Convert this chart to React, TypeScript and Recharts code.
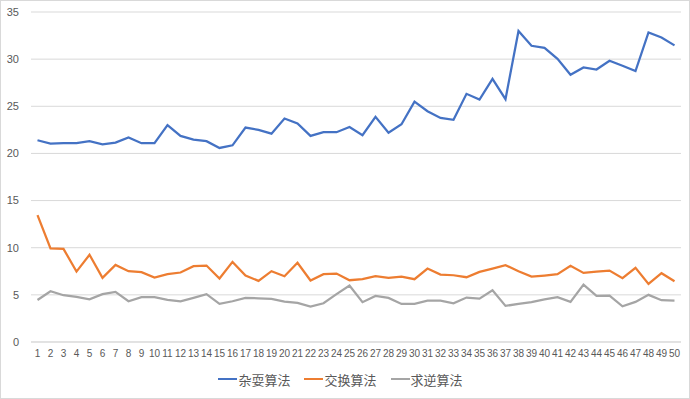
import * as React from "react";
import {
  LineChart,
  Line,
  XAxis,
  YAxis,
  CartesianGrid,
  Legend,
} from "recharts";

const categories = Array.from({ length: 50 }, (_, i) => String(i + 1));

const juggleValues = [
  21.4, 21.04, 21.1, 21.1, 21.3, 20.97, 21.15, 21.7, 21.08, 21.1,
  23.0, 21.86, 21.47, 21.3, 20.58, 20.86, 22.74, 22.5, 22.1, 23.7,
  23.17, 21.86, 22.25, 22.25, 22.8, 21.93, 23.88, 22.2, 23.1, 25.5,
  24.48, 23.77, 23.56, 26.32, 25.72, 27.91, 25.75, 32.98, 31.42, 31.2,
  30.04, 28.34, 29.12, 28.9, 29.83, 29.3, 28.73, 32.84, 32.3, 31.46,
];

const swapValues = [
  13.46, 9.92, 9.88, 7.47, 9.25, 6.8, 8.18, 7.51, 7.4, 6.84,
  7.19, 7.37, 8.04, 8.11, 6.73, 8.5, 7.05, 6.48, 7.51, 6.98,
  8.4, 6.52, 7.19, 7.26, 6.55, 6.66, 6.98, 6.8, 6.94, 6.66,
  7.79, 7.15, 7.08, 6.87, 7.44, 7.79, 8.15, 7.51, 6.94, 7.05,
  7.19, 8.08, 7.33, 7.47, 7.58, 6.77, 7.86, 6.16, 7.3, 6.45,
];

const reverseValues = [
  4.46, 5.38, 4.96, 4.78, 4.53, 5.07, 5.31, 4.32, 4.75, 4.75,
  4.46, 4.32, 4.68, 5.07, 4.04, 4.32, 4.68, 4.64, 4.57, 4.29,
  4.14, 3.75, 4.11, 5.07, 5.99, 4.22, 4.89, 4.68, 4.04, 4.04,
  4.39, 4.39, 4.11, 4.71, 4.6, 5.49, 3.83, 4.04, 4.22, 4.53,
  4.75, 4.25, 6.09, 4.89, 4.92, 3.79, 4.25, 5.0, 4.43, 4.39,
];

const yTicks = [0, 5, 10, 15, 20, 25, 30, 35];

const series = [
  { key: "juggle", name: "杂耍算法", color: "#4472C4" },
  { key: "swap", name: "交换算法", color: "#ED7D31" },
  { key: "reverse", name: "求逆算法", color: "#A5A5A5" },
];

const data = categories.map((name, i) => ({
  name,
  juggle: juggleValues[i],
  swap: swapValues[i],
  reverse: reverseValues[i],
}));

// legend drawn like Excel's: short line then label
const LegendContent = () => (
  <div
    style={{
      height: 30,
      display: "flex",
      justifyContent: "center",
      alignItems: "center",
      fontFamily: "'Noto Sans CJK SC', sans-serif",
      fontSize: 13,
      color: "#595959",
      paddingTop: 4,
      boxSizing: "border-box",
    }}
  >
    {series.map((s) => (
      <div key={s.key} style={{ display: "flex", alignItems: "center", margin: "0 7px" }}>
        <div style={{ width: 19, height: 2.5, background: s.color, marginRight: 1 }} />
        <span>{s.name}</span>
      </div>
    ))}
  </div>
);

export default function App() {
  return (
    <div
      style={{
        position: "absolute",
        left: 0,
        top: 0,
        width: 690,
        height: 399,
        background: "#fff",
        border: "1px solid #d9d9d9",
        boxSizing: "border-box",
      }}
    >
      <div style={{ position: "absolute", left: -1, top: -1 }}>
        <LineChart
          width={690}
          height={399}
          data={data}
          margin={{ top: 12, right: 9, left: 0, bottom: 7 }}
        >
          <CartesianGrid vertical={false} stroke="#d9d9d9" strokeWidth={1} />
          <XAxis
            dataKey="name"
            interval={0}
            height={20}
            padding={{ left: 6.5, right: 6.5 }}
            axisLine={{ stroke: "#d9d9d9" }}
            tickLine={false}
            tick={{ fontSize: 10, fill: "#595959", fontFamily: "'Liberation Sans', sans-serif" }}
          />
          <YAxis
            width={31}
            domain={[0, 35]}
            ticks={yTicks}
            axisLine={false}
            tickLine={false}
            tick={{ fontSize: 11, fill: "#595959", fontFamily: "'Liberation Sans', sans-serif", dx: -4 }}
          />
          <Legend verticalAlign="bottom" content={<LegendContent />} />
          {series.map((s) => (
            <Line
              key={s.key}
              type="linear"
              dataKey={s.key}
              name={s.name}
              stroke={s.color}
              strokeWidth={2.25}
              dot={false}
              isAnimationActive={false}
            />
          ))}
        </LineChart>
      </div>
    </div>
  );
}
